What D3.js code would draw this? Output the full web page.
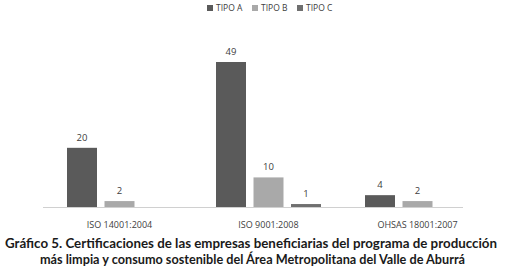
<!DOCTYPE html>
<html>
<head>
<meta charset="utf-8">
<script src="https://cdn.jsdelivr.net/npm/d3@7"></script>
<style>
  body { margin: 0; background: #fff; }
  svg { display: block; }
</style>
</head>
<body>
<script>
var w = 508;
var h = 277;

// data
var categories = ["ISO 14001:2004", "ISO 9001:2008", "OHSAS 18001:2007"];
var seriesNames = ["TIPO A", "TIPO B", "TIPO C"];
var tipoA = [20, 49, 4];
var tipoB = [2, 10, 2];
var tipoC = [null, 1, null];
var colors = ["#5a5a5a", "#a9a9a9", "#6f6f6f"];
var titleLines = [
    "Gráfico 5. Certificaciones de las empresas beneficiarias del programa de producción",
    "más limpia y consumo sostenible del Área Metropolitana del Valle de Aburrá"
];

var series = [tipoA, tipoB, tipoC];

var svg = d3.select("body")
            .append("svg")
            .attr("width", w)
            .attr("height", h);

var baseY = 207;

var xScale = d3.scaleBand()
               .domain(categories)
               .range([45, 492])
               .paddingInner(0)
               .paddingOuter(0);

var inner = d3.scaleBand()
              .domain(seriesNames)
              .range([22, xScale.bandwidth() - 22])
              .paddingInner(0.2);

var yScale = d3.scaleLinear()
               .domain([0, 49])
               .range([baseY, 62]);

// baseline
svg.append("line")
   .attr("x1", 43)
   .attr("x2", 463)
   .attr("y1", baseY + 0.5)
   .attr("y2", baseY + 0.5)
   .style("stroke", "#d0d0d0")
   .style("stroke-width", 1);

// bars
var groups = svg.selectAll("g.serie")
                .data(series)
                .enter()
                .append("g")
                .attr("class", "serie");

groups.each(function (vals, si) {
    var items = vals.map(function (v, ci) { return { v: v, c: categories[ci] }; })
                    .filter(function (d) { return d.v !== null; });
    var g = d3.select(this);
    g.selectAll("rect")
     .data(items)
     .enter()
     .append("rect")
     .attr("x", function (d) { return xScale(d.c) + inner(seriesNames[si]); })
     .attr("y", function (d) { return yScale(d.v); })
     .attr("width", inner.bandwidth())
     .attr("height", function (d) { return baseY - yScale(d.v); })
     .style("fill", colors[si]);

    g.selectAll("text")
     .data(items)
     .enter()
     .append("text")
     .attr("x", function (d) { return xScale(d.c) + inner(seriesNames[si]) + inner.bandwidth() / 2; })
     .attr("y", function (d) { return yScale(d.v) - 7; })
     .attr("text-anchor", "middle")
     .style("font-family", "'Open Sans', sans-serif")
     .style("font-size", "9.5px")
     .style("fill", "#404040")
     .text(function (d) { return d.v; });
});

// category labels
svg.selectAll("text.cat")
   .data(categories)
   .enter()
   .append("text")
   .attr("class", "cat")
   .attr("x", function (d) { return xScale(d) + xScale.bandwidth() / 2; })
   .attr("y", 228)
   .attr("text-anchor", "middle")
   .style("font-family", "'Open Sans', sans-serif")
   .style("font-size", "9px")
   .style("fill", "#404040")
   .text(function (d) { return d; });

// legend
var legendX = [207, 252, 297];
var legend = svg.selectAll("g.legend")
                .data(seriesNames)
                .enter()
                .append("g")
                .attr("class", "legend")
                .attr("transform", function (d, i) { return "translate(" + legendX[i] + ",0)"; });

legend.append("rect")
      .attr("x", 0)
      .attr("y", 5)
      .attr("width", 6)
      .attr("height", 6)
      .style("fill", function (d, i) { return colors[i]; });

legend.append("text")
      .attr("x", 9)
      .attr("y", 11)
      .style("font-family", "'Open Sans', sans-serif")
      .style("font-size", "8.5px")
      .style("fill", "#404040")
      .text(function (d) { return d; });

// title
var titleWidths = [492, 425];
svg.selectAll("text.title")
   .data(titleLines)
   .enter()
   .append("text")
   .attr("class", "title")
   .attr("x", function (d, i) { return i === 0 ? 5 : 40; })
   .attr("y", function (d, i) { return 248 + i * 16; })
   .attr("textLength", function (d, i) { return titleWidths[i]; })
   .attr("lengthAdjust", "spacingAndGlyphs")
   .style("font-family", "Lato, sans-serif")
   .style("font-weight", "bold")
   .style("font-size", "12.5px")
   .style("fill", "#1a1a1a")
   .text(function (d) { return d; });
</script>
</body>
</html>
